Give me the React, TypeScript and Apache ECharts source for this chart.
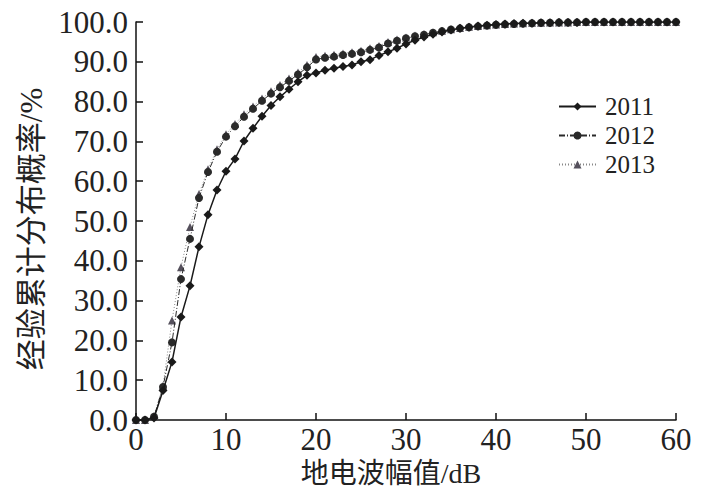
import React, { useEffect, useRef } from "react";
import * as echarts from "echarts";

const xValues = [
  0, 1, 2, 3, 4, 5, 6, 7, 8, 9, 10, 11, 12, 13, 14, 15, 16, 17, 18, 19, 20,
  21, 22, 23, 24, 25, 26, 27, 28, 29, 30, 31, 32, 33, 34, 35, 36, 37, 38, 39, 40,
  41, 42, 43, 44, 45, 46, 47, 48, 49, 50, 51, 52, 53, 54, 55, 56, 57, 58, 59, 60,
];

const values2011 = [
  0, 0, 0.5, 7.4, 14.6, 25.9, 33.7, 43.5, 51.6, 57.8, 62.5, 65.6, 70.1, 73.3, 76.3,
  79.0, 81.2, 83.1, 85.0, 86.6, 87.2, 87.9, 88.4, 88.8, 89.2, 90.0, 90.5, 91.6, 92.5,
  93.4, 94.5, 95.4, 96.2, 96.9, 97.5, 98.0, 98.4, 98.7, 99.0, 99.2, 99.4, 99.5, 99.6,
  99.7, 99.7, 99.8, 99.8, 99.9, 99.9, 99.9, 100, 100, 100, 100, 100, 100, 100, 100,
  100, 100, 100,
];

const values2012 = [
  0, 0, 0.8, 8.3, 19.5, 35.4, 45.5, 55.8, 62.3, 67.4, 71.2, 73.8, 76.2, 78.2, 80.2,
  82.0, 83.6, 85.2, 86.8, 88.6, 90.6, 91.0, 91.3, 91.7, 92.0, 92.4, 93.0, 93.6, 94.6,
  95.3, 95.9, 96.4, 96.8, 97.3, 97.7, 98.1, 98.4, 98.7, 98.9, 99.1, 99.3, 99.4, 99.5,
  99.6, 99.7, 99.8, 99.8, 99.9, 99.9, 99.9, 100, 100, 100, 100, 100, 100, 100, 100,
  100, 100, 100,
];

const values2013 = [
  0, 0, 1.0, 8.6, 25.0, 38.4, 48.5, 56.8, 63.0, 68.0, 71.8, 74.4, 76.8, 78.8, 80.8,
  82.6, 84.2, 85.8, 87.3, 89.2, 91.2, 91.5, 91.8, 92.1, 92.4, 92.8, 93.4, 94.0, 95.0,
  95.6, 96.1, 96.6, 97.0, 97.4, 97.8, 98.2, 98.5, 98.8, 99.0, 99.2, 99.4, 99.5, 99.6,
  99.7, 99.8, 99.8, 99.9, 99.9, 99.9, 100, 100, 100, 100, 100, 100, 100, 100, 100,
  100, 100, 100,
];

const seriesNames = ["2011", "2012", "2013"];
const xAxisName = "地电波幅值/dB";
const yAxisName = "经验累计分布概率/%";

const FONT = "'Liberation Serif', 'Noto Sans CJK SC', serif";

export default function App() {
  const ref = useRef<HTMLDivElement>(null);

  useEffect(() => {
    if (!ref.current) return;
    const chart = echarts.init(ref.current, undefined, { renderer: "svg" });
    const pair = (vals: number[]) => xValues.map((x, i) => [x, vals[i]]);

    chart.setOption({
      animation: false,
      backgroundColor: "#ffffff",
      grid: { left: 136, right: 26, top: 22, bottom: 81, containLabel: false },
      legend: {
        orient: "vertical",
        left: 553,
        top: 88,
        itemWidth: 37,
        itemHeight: 10,
        itemGap: 2,
        data: seriesNames,
        textStyle: {
          fontFamily: FONT,
          fontSize: 25,
          color: "#222",
          lineHeight: 27,
          padding: [0, 0, 0, 4],
        },
      },
      xAxis: {
        type: "value",
        min: 0,
        max: 60,
        interval: 10,
        name: xAxisName,
        nameLocation: "middle",
        nameGap: 31,
        nameTextStyle: {
          fontFamily: FONT,
          fontSize: 28,
          color: "#222",
          padding: [0, 30, 0, 0],
        },
        axisLine: { show: true, lineStyle: { color: "#111", width: 1.5 } },
        axisTick: { show: true, inside: true, length: 7, lineStyle: { color: "#111", width: 1.5 } },
        axisLabel: { fontFamily: FONT, fontSize: 31, color: "#222", margin: 4 },
        splitLine: { show: false },
      },
      yAxis: {
        type: "value",
        min: 0,
        max: 100,
        interval: 10,
        name: yAxisName,
        nameLocation: "middle",
        nameRotate: 90,
        nameGap: 89,
        nameTextStyle: {
          fontFamily: FONT,
          fontSize: 31,
          color: "#222",
          padding: [0, 16, 0, 0],
        },
        axisLine: { show: true, lineStyle: { color: "#111", width: 1.5 } },
        axisTick: { show: true, inside: true, length: 7, lineStyle: { color: "#111", width: 1.5 } },
        axisLabel: {
          fontFamily: FONT,
          fontSize: 31,
          color: "#222",
          margin: 8,
          formatter: (v: number) => v.toFixed(1),
        },
        splitLine: { show: false },
      },
      series: [
        {
          name: seriesNames[0],
          type: "line",
          data: pair(values2011),
          symbol: "diamond",
          symbolSize: 9,
          itemStyle: { color: "#1a1a1a" },
          lineStyle: { color: "#1a1a1a", width: 1.5, type: "solid" },
          z: 3,
        },
        {
          name: seriesNames[1],
          type: "line",
          data: pair(values2012),
          symbol: "circle",
          symbolSize: 8,
          itemStyle: { color: "#2a2a2a" },
          lineStyle: { color: "#2a2a2a", width: 1, type: [6, 2, 1, 2] },
          z: 2,
        },
        {
          name: seriesNames[2],
          type: "line",
          data: pair(values2013),
          symbol: "triangle",
          symbolSize: 8,
          itemStyle: { color: "#55505c" },
          lineStyle: { color: "#888", width: 1, type: [1, 2] },
          z: 1,
        },
      ],
    });

    return () => chart.dispose();
  }, []);

  return (
    <div
      ref={ref}
      style={{ position: "fixed", left: 0, top: 0, width: 702, height: 501, background: "#fff" }}
    />
  );
}
